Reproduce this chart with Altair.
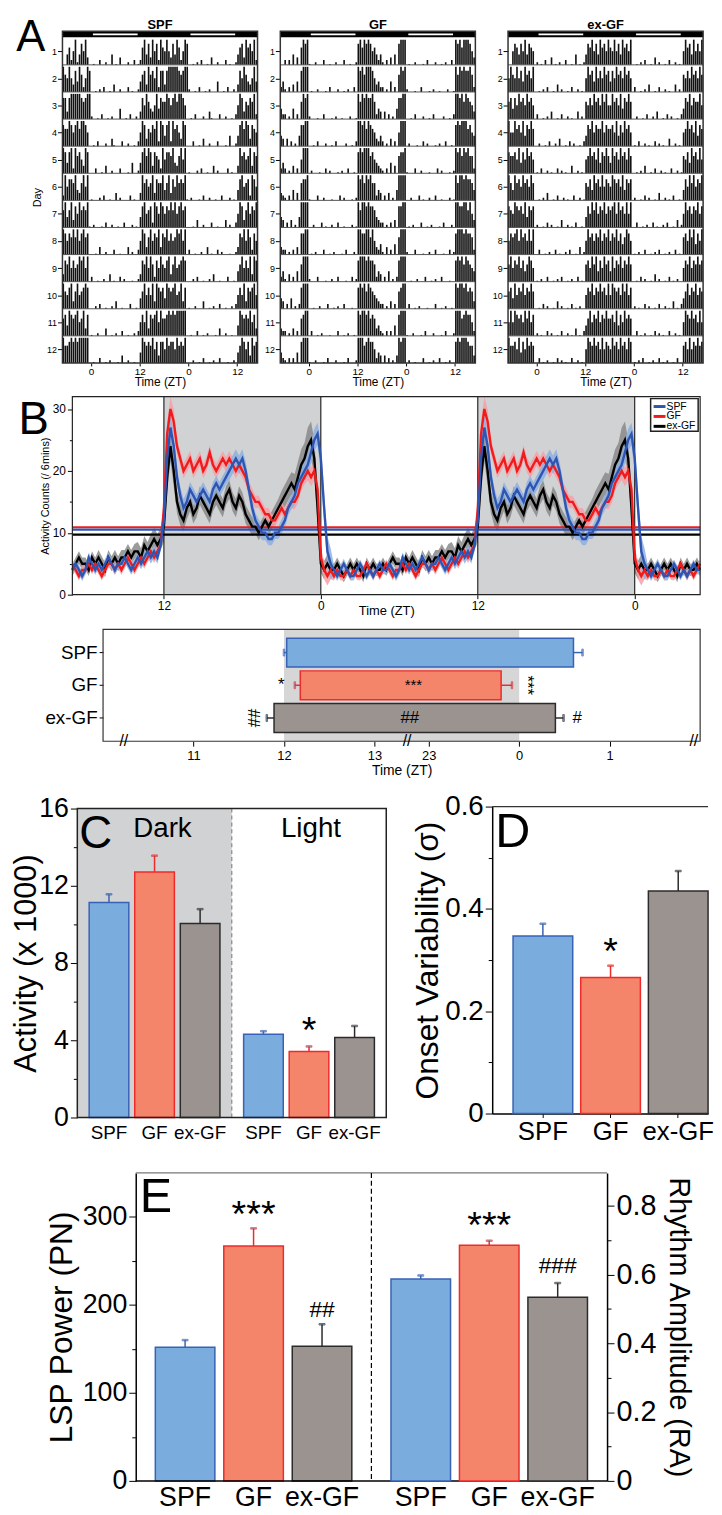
import altair as alt
import pandas as pd

FONT = "Liberation Sans"
W = 706  # layout width of every row

GROUPS = ["SPF", "GF", "ex-GF"]
BAR_FILL = ["#7aacdd", "#f4846a", "#9b9390"]
BAR_EDGE = ["#3862b5", "#ee2b2b", "#2b2b2b"]
LINE_COLORS = ["#2f55b2", "#f01c1c", "#000000"]
BAND_COLORS = ["#8db0e0", "#f6a0a6", "#8a8a8a"]
LIGHT_ON, LIGHT_OFF = 0, 12

# ---------------- Panel A: actograms (30-min bins, level 0-9), continuous from ZT -6 of day 1
ACT_SPF = [
    "573692586940" "010030020050" "104000200301" "379584968397",
    "696485973698" "001020300104" "002000301002" "578497869388",
    "489999987899" "200103001020" "005001030020" "486975469587",
    "798689799860" "010300020041" "000300200103" "698476879398",
    "589397864980" "003001040020" "003000105002" "589798487639",
    "688795479690" "100020300100" "402000030100" "497867948779",
    "579486978791" "020001030020" "010030002010" "589678398698",
    "687979689780" "001040020003" "001000402003" "698479687948",
    "796867989690" "300100200401" "003020001002" "487969738697",
    "689479678980" "002030010020" "400100030010" "579686949878",
    "598789679480" "100200040010" "200300100203" "686948789697",
    "789898999990" "010030010200" "010400200100" "598787968488",
    "697886978790" "002001030010" "200300010020" "579868497869",
]
ACT_GF = [
    "303050407989" "100200030010" "020003001002" "897989867535",
    "203040508999" "010020001030" "002001020030" "989799986453",
    "302050307989" "200010030001" "020010002001" "979898897354",
    "040302058899" "001030002001" "030000200103" "998979876435",
    "302040306999" "020001003020" "001020030010" "898999786543",
    "203050407889" "100030020001" "000302000102" "989798977354",
    "030402059999" "002000301002" "003001000201" "979989887543",
    "302030408899" "010200030010" "200010300020" "998899796435",
    "204030507999" "200030001002" "003000100302" "899989887354",
    "030502038999" "001002000300" "102003000100" "898979876543",
    "302040307899" "030010200010" "003001020010" "989989787453",
    "203030508999" "100200010300" "020001030002" "999789886354",
    "040302049899" "020010003001" "020030010200" "898999877435",
]
ACT_EXGF = [
    "687586958760" "201030040102" "003001050102" "587968597869",
    "769685978690" "010203001040" "200103002010" "697859686978",
    "586978697860" "300102040010" "300201004020" "768697869796",
    "697869587970" "020010300204" "001030200103" "587968779687",
    "786958697860" "103002010030" "201004002010" "679786958797",
    "597869786970" "010204001030" "020100300201" "768597869687",
    "698786958780" "200103020010" "400201030010" "586979687968",
    "789697869690" "030010200301" "002030010402" "697868796879",
    "687968579860" "102003001020" "300102003010" "786979586978",
    "596879687970" "010302001040" "200103010200" "687968797869",
    "698786979680" "201003020010" "300201040103" "579687968797",
    "786958697870" "030102001030" "201003002010" "698797869687",
    "697869786980" "102030010200" "301020010300" "786968797869",
]

# ---------------- Panel B: mean activity profiles (counts / 6 min) every 15 min from ZT 0
PROF_SPF = [22, 14, 7, 5, 4, 3, 4, 5, 4, 3, 3, 4, 5, 4, 3, 4, 3, 4, 5, 4, 4, 5, 4, 3,
            4, 6, 5, 4, 5, 4, 5, 6, 5, 4, 5, 5, 6, 5, 4, 5, 6, 5, 6, 7, 6, 7, 6, 8,
            12, 22, 27, 24, 19, 16, 14, 15, 17, 16, 15, 16, 17, 16, 15, 17, 18, 17, 18, 19, 20, 21, 22, 21,
            22, 20, 17, 14, 12, 11, 10, 10, 9, 9, 10, 10, 11, 12, 14, 15, 16, 18, 19, 20, 21, 23, 25, 26]
PROF_GF = [6, 4, 3, 4, 3, 4, 3, 3, 4, 3, 4, 3, 3, 4, 5, 4, 3, 4, 3, 4, 5, 4, 3, 4,
           4, 5, 4, 5, 4, 3, 4, 5, 5, 4, 5, 4, 5, 6, 5, 4, 5, 6, 5, 6, 7, 6, 7, 8,
           14, 26, 30, 28, 24, 22, 20, 21, 22, 20, 21, 22, 20, 21, 23, 21, 20, 21, 22, 21, 22, 21, 20, 21,
           20, 19, 17, 16, 15, 15, 14, 13, 13, 12, 12, 13, 14, 13, 14, 15, 15, 16, 18, 19, 20, 19, 20, 17]
PROF_EXGF = [5, 4, 5, 4, 4, 5, 4, 3, 4, 5, 4, 5, 4, 3, 5, 4, 5, 4, 4, 5, 4, 5, 6, 5,
             5, 4, 6, 5, 6, 5, 4, 6, 5, 6, 5, 6, 6, 7, 6, 7, 7, 6, 8, 7, 8, 9, 8, 9,
             11, 19, 24, 20, 15, 13, 12, 14, 15, 13, 14, 16, 15, 14, 13, 15, 16, 15, 14, 16, 17, 15, 14, 16,
             15, 13, 12, 11, 11, 10, 11, 12, 11, 12, 13, 14, 15, 16, 17, 18, 17, 19, 21, 22, 24, 25, 22, 14]
SEM_SPF = [2.5, 0.8, 0.7, 0.7, 0.7, 0.8, 0.8, 0.8, 0.8, 0.8, 0.9, 1.0,
           2.0, 1.5, 1.2, 1.2, 1.2, 1.5, 1.5, 1.2, 1.0, 1.2, 1.5, 1.8]
SEM_GF = [1.5, 0.7, 0.6, 0.7, 0.7, 0.7, 0.7, 0.7, 0.8, 0.8, 0.8, 0.9,
          2.0, 1.2, 1.2, 1.2, 1.2, 1.2, 1.2, 1.0, 1.0, 1.0, 1.2, 1.5]
SEM_EXGF = [1.5, 1.0, 1.0, 1.0, 1.0, 1.0, 1.0, 1.2, 1.2, 1.2, 1.5, 1.8,
            2.5, 1.8, 1.5, 1.5, 1.5, 1.5, 1.5, 1.2, 1.5, 1.8, 2.5, 3.0]
MEAN_LEVEL = [10.5, 10.9, 9.7]

# Panel B lower: activity onset / offset (ZT, hours)
ONSET = [12.03, 12.18, 11.89]
ONSET_SEM = [0.03, 0.06, 0.08]
OFFSET = [24.6, 23.8, 24.4]
OFFSET_SEM = [0.1, 0.12, 0.09]

# Panel C
PHASES = ["Dark", "Light"]
C_DARK = [11.13, 12.72, 10.05]
C_DARK_SEM = [0.43, 0.84, 0.74]
C_LIGHT = [4.31, 3.42, 4.14]
C_LIGHT_SEM = [0.16, 0.26, 0.6]
# Panel D
D_VAL = [0.347, 0.266, 0.435]
D_SEM = [0.024, 0.023, 0.039]
# Panel E
E_LSP = [152, 267, 153]
E_LSP_SEM = [8, 20, 25]
E_RA = [0.587, 0.685, 0.534]
E_RA_SEM = [0.010, 0.013, 0.041]

ONE = pd.DataFrame({"a": [0]})
FILL_SCALE = alt.Scale(domain=GROUPS, range=BAR_FILL)
EDGE_SCALE = alt.Scale(domain=GROUPS, range=BAR_EDGE)


def spacer(h):
    return alt.Chart(ONE).mark_point(opacity=0, size=1).encode(
        x=alt.value(0), y=alt.value(0)).properties(width=1, height=h)


def txt(text, x, y, size, **kw):
    return alt.Chart(pd.DataFrame({"t": [text]})).mark_text(
        fontSize=size, font=FONT, color="black", **kw).encode(
        x=alt.value(x), y=alt.value(y), text="t:N")


def box(x1, x2, y1, y2, color, width):
    return alt.Chart(ONE).mark_rect(filled=False, color=color, strokeWidth=width).encode(
        x=alt.value(x1), x2=alt.value(x2), y=alt.value(y1), y2=alt.value(y2))


def hline(x1, x2, y, color, width, dash=None):
    kw = {"strokeDash": dash} if dash else {}
    return alt.Chart(ONE).mark_rule(color=color, strokeWidth=width, **kw).encode(
        x=alt.value(x1), x2=alt.value(x2), y=alt.value(y))


def vline(x, y1, y2, color, width, dash=None):
    kw = {"strokeDash": dash} if dash else {}
    return alt.Chart(ONE).mark_rule(color=color, strokeWidth=width, **kw).encode(
        x=alt.value(x), y=alt.value(y1), y2=alt.value(y2))


# ---------------- Panel A
HA = 335
ATOP = 12.24
AW = 197


def actogram(name, segs, L, first):
    vals = [int(c) for c in "".join(segs)]
    recs = []
    for r in range(1, 13):
        for j in range(96):
            t = -7 + 24 * (r - 1) + 0.5 * j
            k = int(round((t + 6) * 2))
            if 0 <= k < len(vals) and vals[k] > 0:
                x = -7 + 0.5 * j
                recs.append({"x": x, "x2": x + 0.4, "y": 12 - r,
                             "y2": 12 - r + 0.93 * (vals[k] / 9) ** 1.5})
    df = pd.DataFrame(recs)
    xs = alt.Scale(domain=[-7, 41], range=[L, L + AW], nice=False, zero=False)
    ys = alt.Scale(domain=[0, ATOP], nice=False, zero=False)
    xax = alt.Axis(values=[0, 12, 24, 36], orient="bottom",
                   labelExpr="datum.value % 24 == 0 ? '0' : '12'",
                   title="Time (ZT)", titleFontSize=12, labelFontSize=10, tickSize=3,
                   labelPadding=1, titlePadding=0, domain=False)
    yax = alt.Axis(values=[r - 0.5 for r in range(1, 13)], orient="left", offset=-L,
                   labelExpr="format(12.5 - datum.value, 'd')",
                   labelFontSize=9, tickSize=5, labelPadding=1, domain=False,
                   title="Day" if first else "", titleFontSize=11, titlePadding=4)
    X = alt.X("x:Q", scale=xs, axis=xax)
    Y = alt.Y("y:Q", scale=ys, axis=yax)
    lb = pd.DataFrame({"x": [-7], "x2": [41], "y": [12.02], "y2": [12.23]})
    lw = pd.DataFrame({"x": [LIGHT_ON + 0.5, LIGHT_ON + 24.5], "x2": [LIGHT_OFF - 0.5, LIGHT_OFF + 23.5],
                       "y": [12.095, 12.095], "y2": [12.155, 12.155]})
    seps = pd.DataFrame({"y": list(range(1, 12)), "x": -7, "x2": 41})
    layers = [
        alt.Chart(lb).mark_rect(color="black").encode(x=X, x2="x2:Q", y=Y, y2="y2:Q"),
        alt.Chart(lw).mark_rect(color="white").encode(x=X, x2="x2:Q", y=Y, y2="y2:Q"),
        alt.Chart(df).mark_rect(color="#111111").encode(x=X, x2="x2:Q", y=Y, y2="y2:Q"),
        alt.Chart(seps).mark_rule(color="#555555", strokeWidth=1).encode(x=X, x2="x2:Q", y=Y),
        box(L, L + AW, 0, HA, "#333333", 1.5),
        txt(name, L + AW / 2, -2, 13, fontWeight="bold", align="center", baseline="alphabetic"),
    ]
    if first:
        layers.append(txt("A", 22, 20, 44, align="center", baseline="alphabetic"))
    return alt.layer(*layers)


def row_a():
    return alt.layer(
        actogram("SPF", ACT_SPF, 54, True),
        actogram("GF", ACT_GF, 274, False),
        actogram("ex-GF", ACT_EXGF, 504, False),
    ).resolve_scale(x="independent", y="independent").properties(width=W, height=HA)


# ---------------- Panel B top
def row_b_line():
    L, R, H = 64, 698, 200
    recs = []
    for g, prof, sem in zip(GROUPS, [PROF_SPF, PROF_GF, PROF_EXGF], [SEM_SPF, SEM_GF, SEM_EXGF]):
        for i, v in enumerate(prof):
            t = i * 0.25
            s = sem[i // 4]
            for off in (0, 24, 48):
                x = t + off
                if 5 <= x <= 53:
                    recs.append({"group": g, "x": x, "v": v, "lo": v - s, "hi": v + s})
    df = pd.DataFrame(recs)
    xs = alt.Scale(domain=[5, 53], range=[L, R], nice=False, zero=False)
    ys = alt.Scale(domain=[0, 32], nice=False)
    xax = alt.Axis(values=[12, 24, 36, 48], orient="bottom",
                   labelExpr="datum.value % 24 == 0 ? '0' : '12'",
                   title="Time (ZT)", titleFontSize=13, labelFontSize=12, tickSize=4,
                   titlePadding=-7, domain=False)
    yax = alt.Axis(values=list(range(0, 31, 5)), orient="left", offset=-L,
                   labelExpr="datum.value % 10 === 0 ? datum.label : ''",
                   tickSize={"condition": {"test": "datum.value % 10 === 0", "value": 5}, "value": 3},
                   title="Activity Counts (/ 6mins)", titleFontSize=11, labelFontSize=12,
                   titlePadding=2, domain=False)
    X = alt.X("x:Q", scale=xs, axis=xax)
    shade = pd.DataFrame({"x": [LIGHT_OFF, LIGHT_OFF + 24], "x2": [LIGHT_ON + 24, LIGHT_ON + 48]})
    vl = pd.DataFrame({"x": [LIGHT_OFF, LIGHT_ON + 24, LIGHT_OFF + 24, LIGHT_ON + 48]})
    means = pd.DataFrame({"group": GROUPS, "m": MEAN_LEVEL, "x": 5, "x2": 53})
    layers = [
        alt.Chart(shade).mark_rect(color="#d1d2d4").encode(x=X, x2="x2:Q", y=alt.value(0), y2=alt.value(H)),
    ]
    order = [2, 1, 0]
    for gi in order:
        layers.append(alt.Chart(df).transform_filter(alt.datum.group == GROUPS[gi]).mark_area(
            color=BAND_COLORS[gi], opacity=0.85).encode(
            x=X, y=alt.Y("lo:Q", scale=ys, axis=yax), y2="hi:Q"))
    layers.append(alt.Chart(vl).mark_rule(color="black", strokeWidth=1).encode(
        x=X, y=alt.value(0), y2=alt.value(H)))
    for gi in order:
        layers.append(alt.Chart(means).transform_filter(alt.datum.group == GROUPS[gi]).mark_rule(
            color=LINE_COLORS[gi], strokeWidth=2.2).encode(
            x=X, x2="x2:Q", y=alt.Y("m:Q", scale=ys, axis=yax)))
    for gi in order:
        layers.append(alt.Chart(df).transform_filter(alt.datum.group == GROUPS[gi]).mark_line(
            color=LINE_COLORS[gi], strokeWidth=2.4).encode(x=X, y=alt.Y("v:Q", scale=ys, axis=yax)))
    layers.append(box(L, R, 0, H, "#222222", 1.2))
    # legend
    layers.append(alt.Chart(ONE).mark_rect(fill="white", stroke="#222222", strokeWidth=1.5).encode(
        x=alt.value(L + 584), x2=alt.value(L + 632), y=alt.value(2), y2=alt.value(35)))
    for i, g in enumerate(GROUPS):
        yy = 10 + 10 * i
        layers.append(hline(L + 587, L + 599, yy, LINE_COLORS[i], 3))
        layers.append(txt(g, L + 600, yy, 10.5, align="left", baseline="middle"))
    layers.append(txt("B", L - 39, 38, 46, align="center", baseline="alphabetic"))
    return alt.layer(*layers).properties(width=W, height=H)


# ---------------- Panel B bottom
def axpos(zt):
    return zt if zt < 18 else zt - 23 + 13.6


def row_b_bar():
    L, R, H = 95, 698, 113
    df = pd.DataFrame({
        "group": GROUPS,
        "on": [axpos(v) for v in ONSET],
        "off": [axpos(v) for v in OFFSET],
        "on_lo": [axpos(v - e) for v, e in zip(ONSET, ONSET_SEM)],
        "off_hi": [axpos(v + e) for v, e in zip(OFFSET, OFFSET_SEM)],
    })
    xs = alt.Scale(domain=[10, 16.6], range=[L, R], nice=False, zero=False)
    ticks = [11, 12, 13, axpos(23), axpos(24), axpos(25)]
    xax = alt.Axis(values=ticks, orient="bottom",
                   labelExpr="datum.value < 13.5 ? format(datum.value, 'd') : format((round((datum.value - 13.6 + 23) * 10) / 10) % 24, 'd')",
                   title="Time (ZT)", titleFontSize=14, labelFontSize=13, tickSize=5,
                   titlePadding=2, labelPadding=3, domain=False)
    ysc = alt.Scale(domain=GROUPS, paddingInner=0.12, paddingOuter=0.27)
    yax = alt.Axis(title=None, orient="left", offset=-L, labelFontSize=19, tickSize=4,
                   labelPadding=2, domain=False)
    X = alt.X("on:Q", scale=xs, axis=xax)
    Y = alt.Y("group:N", scale=ysc, axis=yax)
    shade = pd.DataFrame({"on": [axpos(LIGHT_OFF)], "off": [axpos(LIGHT_ON + 24)]})
    ann = pd.DataFrame({
        "group": ["GF", "GF", "ex-GF", "ex-GF"],
        "on": [11.97, 13.43, 13.39, 15.24],
        "t": ["*", "***", "##", "#"],
        "s": [17, 15, 17, 17],
    })
    ann_v = pd.DataFrame({"group": ["GF", "ex-GF"], "on": [14.69, 11.66], "t": ["***", "##"]})
    brk = pd.DataFrame({"on": [10.23, 13.36, 16.53]})
    stroke = alt.Stroke("group:N", scale=EDGE_SCALE, legend=None)
    Xlo = alt.X("on_lo:Q", scale=xs, axis=xax)
    Xoff = alt.X("off:Q", scale=xs, axis=xax)
    Xhi = alt.X("off_hi:Q", scale=xs, axis=xax)
    layers = [
        alt.Chart(shade).mark_rect(color="#d6d6d6").encode(x=X, x2="off:Q", y=alt.value(0), y2=alt.value(H)),
        alt.Chart(df).mark_bar(strokeWidth=1.5).encode(
            x=X, x2="off:Q", y=Y, fill=alt.Fill("group:N", scale=FILL_SCALE, legend=None), stroke=stroke),
        alt.Chart(df).mark_rule(strokeWidth=1.5).encode(x=Xlo, x2="on:Q", y=Y, stroke=stroke),
        alt.Chart(df).mark_tick(size=7, thickness=1.5).encode(x=Xlo, y=Y, stroke=stroke),
        alt.Chart(df).mark_rule(strokeWidth=1.5).encode(x=Xoff, x2="off_hi:Q", y=Y, stroke=stroke),
        alt.Chart(df).mark_tick(size=7, thickness=1.5).encode(x=Xhi, y=Y, stroke=stroke),
        alt.Chart(ann).mark_text(font=FONT, color="black", baseline="middle").encode(
            x=X, y=Y, text="t:N", size=alt.Size("s:Q", scale=None, legend=None)),
        alt.Chart(ann_v).mark_text(font=FONT, color="black", fontSize=17, angle=90, baseline="middle").encode(
            x=X, y=Y, text="t:N"),
        box(L, R, 0, H, "#333333", 1.2),
        alt.Chart(brk).mark_text(text="//", fontSize=16, font=FONT, color="black", baseline="middle").encode(
            x=X, y=alt.value(H)),
    ]
    return alt.layer(*layers).properties(width=W, height=H)


# ---------------- Panel C + D
HCD = 314


def panel_c(L, R, top, bottom):
    rows = []
    for ph, vals, sems in [("Dark", C_DARK, C_DARK_SEM), ("Light", C_LIGHT, C_LIGHT_SEM)]:
        for g, v, e in zip(GROUPS, vals, sems):
            rows.append({"phase": ph, "group": g, "v": v, "top": v + e})
    df = pd.DataFrame(rows)
    xs = alt.Scale(domain=PHASES, range=[L, R], paddingInner=0, paddingOuter=0)
    xo = alt.XOffset("group:N", scale=alt.Scale(domain=GROUPS, paddingInner=0.13, paddingOuter=0.26))
    ys = alt.Scale(domain=[0, 16], range=[bottom, top], nice=False)
    yax = alt.Axis(values=list(range(0, 17, 2)), orient="left", offset=-L,
                   labelExpr="datum.value % 4 === 0 ? datum.label : ''",
                   tickSize={"condition": {"test": "datum.value % 4 === 0", "value": 7}, "value": 4},
                   title="Activity (x 1000)", titleFontSize=31, labelFontSize=27,
                   titlePadding=-4, labelPadding=2, domain=False)
    X = alt.X("phase:N", scale=xs, axis=None)
    stroke = alt.Stroke("group:N", scale=EDGE_SCALE, legend=None)
    star = pd.DataFrame({"phase": ["Light"], "group": ["GF"], "v": [3.87], "t": ["*"]})
    mid = (L + R) / 2
    return alt.layer(
        alt.Chart(pd.DataFrame({"phase": ["Dark"]})).mark_rect(color="#d1d2d4").encode(
            x=X, y=alt.value(top), y2=alt.value(bottom)),
        vline(mid, top, bottom, "#888888", 1.2, [4, 3]),
        alt.Chart(df).mark_bar(strokeWidth=1.5).encode(
            x=X, xOffset=xo, y=alt.Y("v:Q", scale=ys, axis=yax),
            fill=alt.Fill("group:N", scale=FILL_SCALE, legend=None), stroke=stroke),
        alt.Chart(df).mark_rule(strokeWidth=1.5).encode(
            x=X, xOffset=xo, y=alt.Y("v:Q", scale=ys, axis=yax), y2="top:Q", stroke=stroke),
        alt.Chart(df).mark_tick(size=6, thickness=1.5).encode(
            x=X, xOffset=xo, y=alt.Y("top:Q", scale=ys, axis=yax), stroke=stroke),
        alt.Chart(df).mark_text(fontSize=19, font=FONT, color="black", baseline="alphabetic").encode(
            x=X, xOffset=xo, y=alt.value(bottom + 22), text="group:N"),
        alt.Chart(star).mark_text(fontSize=38, font=FONT, color="black", baseline="alphabetic").encode(
            x=X, xOffset=xo, y=alt.Y("v:Q", scale=ys, axis=yax), text="t:N"),
        box(L, R, top, bottom, "#222222", 1.5),
        txt("C", L + 2, 42, 46, align="left", baseline="alphabetic"),
        txt("Dark", L + 86, 31, 28, align="center", baseline="alphabetic"),
        txt("Light", L + 236, 31, 28, align="center", baseline="alphabetic"),
    )


def panel_d(L, R, HD):
    df = pd.DataFrame({"group": GROUPS, "v": D_VAL, "top": [v + e for v, e in zip(D_VAL, D_SEM)]})
    xs = alt.Scale(domain=GROUPS, range=[L, R], paddingInner=0.118, paddingOuter=0.154, align=1)
    xax = alt.Axis(title=None, orient="bottom", offset=HD - HCD, labelFontSize=26, labelAngle=0,
                   tickSize=4, labelPadding=1, domainWidth=1.5)
    ys = alt.Scale(domain=[0, 0.6], range=[HD, 0], nice=False)
    yax = alt.Axis(values=[0, 0.1, 0.2, 0.3, 0.4, 0.5, 0.6], orient="left", offset=-L,
                   labelExpr="round(datum.value * 10) % 2 === 0 ? (datum.value === 0 ? '0' : format(datum.value, '.1f')) : ''",
                   tickSize={"condition": {"test": "round(datum.value * 10) % 2 === 0", "value": 7}, "value": 4},
                   title="Onset Variability (σ)", titleFontSize=32, labelFontSize=28,
                   titlePadding=0, labelPadding=2, domainWidth=1.5)
    X = alt.X("group:N", scale=xs, axis=xax)
    stroke = alt.Stroke("group:N", scale=EDGE_SCALE, legend=None)
    star = pd.DataFrame({"group": ["GF"], "v": [0.293], "t": ["*"]})
    return alt.layer(
        alt.Chart(df).mark_bar(strokeWidth=1.5).encode(
            x=X, y=alt.Y("v:Q", scale=ys, axis=yax),
            fill=alt.Fill("group:N", scale=FILL_SCALE, legend=None), stroke=stroke),
        alt.Chart(df).mark_rule(strokeWidth=1.5).encode(
            x=X, y=alt.Y("v:Q", scale=ys, axis=yax), y2="top:Q", stroke=stroke),
        alt.Chart(df).mark_tick(size=6, thickness=1.5).encode(
            x=X, y=alt.Y("top:Q", scale=ys, axis=yax), stroke=stroke),
        alt.Chart(star).mark_text(fontSize=38, font=FONT, color="black", baseline="alphabetic").encode(
            x=X, y=alt.Y("v:Q", scale=ys, axis=yax), text="t:N"),
        hline(L, R, 0, "#333333", 1.2),
        txt("D", L + 3, 41, 49, align="left", baseline="alphabetic"),
    )


def row_cd():
    return alt.layer(panel_c(69, 381, 2, HCD), panel_d(488, 706, 310)).resolve_scale(
        x="independent", y="independent", xOffset="independent").properties(width=W, height=HCD)


# ---------------- Panel E
def row_e():
    L, R, H = 128, 604, 311
    halves = ["LSP", "RA"]
    xs = alt.Scale(domain=halves, range=[L, R], paddingInner=0, paddingOuter=0)
    xo = alt.XOffset("group:N", scale=alt.Scale(domain=GROUPS, paddingInner=0.13, paddingOuter=0.286))
    X = alt.X("half:N", scale=xs, axis=None)
    stroke = alt.Stroke("group:N", scale=EDGE_SCALE, legend=None)
    fill = alt.Fill("group:N", scale=FILL_SCALE, legend=None)
    dl = pd.DataFrame({"half": "LSP", "group": GROUPS, "v": E_LSP,
                       "top": [v + e for v, e in zip(E_LSP, E_LSP_SEM)]})
    dr = pd.DataFrame({"half": "RA", "group": GROUPS, "v": E_RA,
                       "top": [v + e for v, e in zip(E_RA, E_RA_SEM)]})
    ysl = alt.Scale(domain=[0, 350], nice=False)
    ysr = alt.Scale(domain=[0, 0.895], nice=False)
    yaxl = alt.Axis(values=list(range(0, 301, 50)), orient="left", offset=-L,
                    labelExpr="datum.value % 100 === 0 ? datum.label : ''",
                    tickSize={"condition": {"test": "datum.value % 100 === 0", "value": 7}, "value": 4},
                    title="LSP Power (PN)", titleFontSize=32, labelFontSize=27,
                    titlePadding=4, labelPadding=2, domainWidth=1.5)
    yaxr = alt.Axis(values=[0, 0.1, 0.2, 0.3, 0.4, 0.5, 0.6, 0.7, 0.8], orient="right", offset=-(W - R),
                    labelExpr="round(datum.value * 10) % 2 === 0 ? (datum.value === 0 ? '0' : format(datum.value, '.1f')) : ''",
                    tickSize={"condition": {"test": "round(datum.value * 10) % 2 === 0", "value": 7}, "value": 4},
                    title="Rhythm Amplitude (RA)", titleFontSize=29, labelFontSize=29, titleAngle=90,
                    titlePadding=8, labelPadding=2, domainWidth=1.5)
    labels = pd.DataFrame({"half": ["LSP"] * 3 + ["RA"] * 3, "group": GROUPS * 2})
    ann_l = pd.DataFrame({"half": ["LSP", "LSP"], "group": ["GF", "ex-GF"], "v": [289, 186],
                          "t": ["***", "##"], "s": [38, 23]})
    ann_r = pd.DataFrame({"half": ["RA", "RA"], "group": ["GF", "ex-GF"], "v": [0.705, 0.604],
                          "t": ["***", "###"], "s": [38, 23]})

    def side(d, ys, yax, ann):
        Yv = alt.Y("v:Q", scale=ys, axis=yax)
        return [
            alt.Chart(d).mark_bar(strokeWidth=1.5).encode(x=X, xOffset=xo, y=Yv, fill=fill, stroke=stroke),
            alt.Chart(d).mark_rule(strokeWidth=1.5).encode(x=X, xOffset=xo, y=Yv, y2="top:Q", stroke=stroke),
            alt.Chart(d).mark_tick(size=6, thickness=1.5).encode(
                x=X, xOffset=xo, y=alt.Y("top:Q", scale=ys, axis=yax), stroke=stroke),
            alt.Chart(ann).mark_text(font=FONT, color="black", baseline="alphabetic").encode(
                x=X, xOffset=xo, y=Yv, text="t:N", size=alt.Size("s:Q", scale=None, legend=None)),
        ]

    left = alt.layer(
        *side(dl, ysl, yaxl, ann_l),
        hline(L, R, 0, "#777777", 1.2),
        vline((L + R) / 2, 0, H, "black", 1.2, [5, 3]),
        hline(L, R, H, "black", 1.5),
        alt.Chart(labels).mark_text(fontSize=27, font=FONT, color="black", baseline="alphabetic").encode(
            x=X, xOffset=xo, y=alt.value(H + 25), text="group:N"),
        txt("E", L + 4, 39, 49, align="left", baseline="alphabetic"),
    )
    right = alt.layer(*side(dr, ysr, yaxr, ann_r))
    return alt.layer(left, right).resolve_scale(y="independent").properties(width=W, height=H)


chart = alt.vconcat(
    spacer(14), row_a(), spacer(34), row_b_line(), spacer(35), row_b_bar(), spacer(66),
    row_cd(), spacer(56), row_e(),
    spacing=0, bounds="flush",
).resolve_scale(
    x="independent", y="independent", xOffset="independent",
    fill="independent", stroke="independent", size="independent"
).properties(padding=0).configure(font=FONT).configure_view(
    stroke="transparent").configure_axis(
    labelColor="black", tickColor="black", domainColor="black", titleColor="black",
    grid=False, titleFontWeight="normal", labelFont=FONT, titleFont=FONT)

chart.save("out.html", embed_options={"renderer": "svg", "actions": False})
